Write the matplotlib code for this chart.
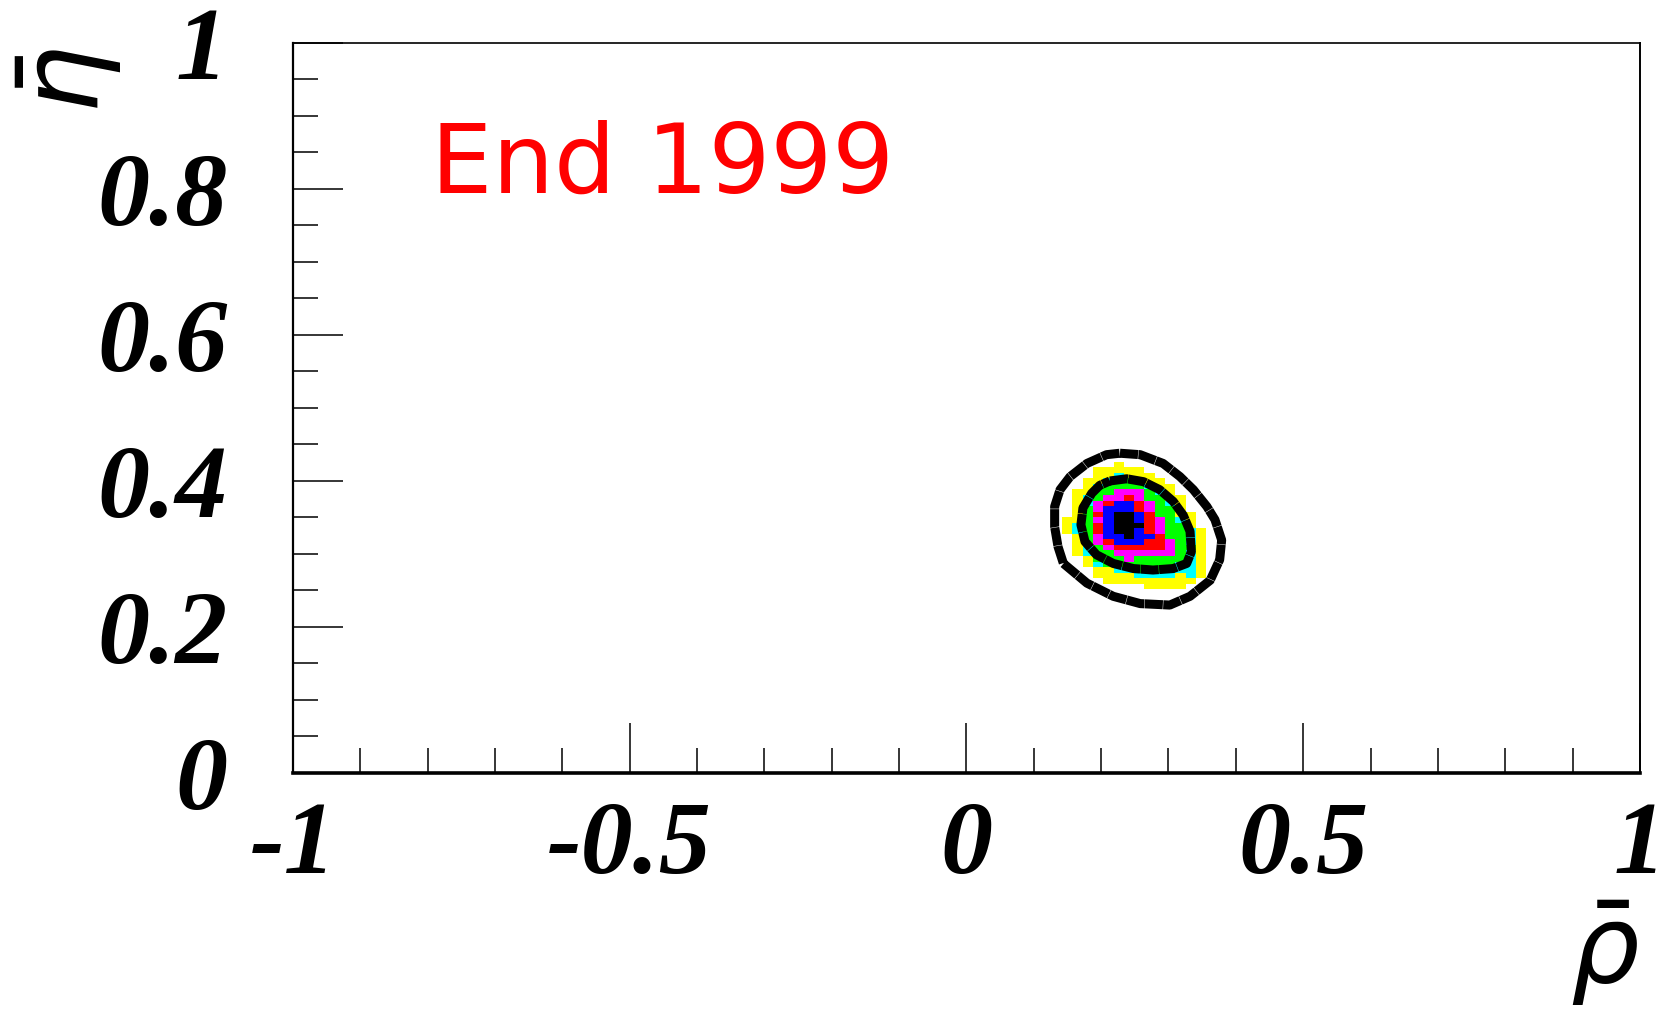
import numpy as np
import matplotlib
matplotlib.use('Agg')
import matplotlib.pyplot as plt
from matplotlib.colors import ListedColormap, BoundaryNorm
from matplotlib.ticker import MultipleLocator, FuncFormatter

# Fit result: coloured likelihood levels on a (rho-bar, eta-bar) grid
# codes from the outside in: Y yellow, C cyan, G green, M magenta, R red, B blue, K black
level_codes = 'YCGMRBK'
level_colors = ['#ffff00', '#00ffff', '#00ff00', '#ff00ff', '#ff0000', '#0000ff', '#000000']

blob_rows = [
    '.....Y........',
    '...YYYYY......',
    '...YYCYYY.....',
    '..YYCGGCYY....',
    '..YCGGGGCYY...',
    '.YYGGMMMGCY...',
    '.YCGMMRMGGYY..',
    '.YCMRBBRMGCY..',
    '.YGMBBBRMGGY..',
    '.YGRBKKBRGGYY.',
    'YYGMBKKBRMGCY.',
    'YCGRBKKKRMGGY.',
    'YCGRBKKBRMGGCY',
    '.YGMBBKBBRGGCY',
    '.YGMRBBBRRMGCY',
    '.YCGMRRRRRMGGY',
    '.YCGGMMMMMMGCY',
    '..YGGGMGGGGGCY',
    '..YCGGGGGGGCCY',
    '...YYCCGGGGCCY',
    '...YYYYCCCCYCY',
    '....YYYYYYYYY.',
    '........YYYY..',
]

# grid binning (left edge / top edge and bin sizes)
rho_lo, rho_bin = 0.142, 0.0153
eta_hi, eta_bin = 0.4264, 0.0076

# confidence contours
outer_rho = [0.228, 0.258, 0.292, 0.317, 0.337, 0.357, 0.369, 0.379, 0.376, 0.362, 0.332,
             0.302, 0.258, 0.218, 0.179, 0.144, 0.136, 0.131, 0.131, 0.139, 0.154, 0.179, 0.208]
outer_eta = [0.438, 0.436, 0.424, 0.406, 0.388, 0.365, 0.347, 0.319, 0.292, 0.264, 0.242,
             0.230, 0.232, 0.242, 0.260, 0.287, 0.310, 0.337, 0.365, 0.388, 0.406, 0.424, 0.436]
inner_rho = [0.213, 0.238, 0.263, 0.287, 0.307, 0.322, 0.332, 0.334, 0.327, 0.307, 0.277,
             0.248, 0.218, 0.193, 0.176, 0.170, 0.173, 0.186, 0.198]
inner_eta = [0.400, 0.403, 0.399, 0.388, 0.372, 0.353, 0.331, 0.303, 0.287, 0.280, 0.278,
             0.280, 0.287, 0.299, 0.317, 0.340, 0.363, 0.383, 0.394]

x_ticks_major = [-1, -0.5, 0, 0.5, 1]
y_ticks_major = [0, 0.2, 0.4, 0.6, 0.8, 1]
label_text = 'End 1999'


def build_grid(rows):
    codes = np.array([list(r) for r in rows])
    levels = np.full(codes.shape, np.nan)
    for i, c in enumerate(level_codes):
        levels[codes == c] = i
    return np.ma.masked_invalid(levels)


def fmt(v, pos):
    return '%g' % v


def main():
    fig = plt.figure(figsize=(16.71, 10.18), dpi=100)
    ax = fig.add_axes([0.1753, 0.2407, 0.8061, 0.7171])

    grid = build_grid(blob_rows)
    nrow, ncol = grid.shape
    x_edges = rho_lo + rho_bin * np.arange(ncol + 1)
    y_edges = eta_hi - eta_bin * np.arange(nrow + 1)
    cmap = ListedColormap(level_colors)
    norm = BoundaryNorm(np.arange(-0.5, len(level_colors) + 0.5), cmap.N)
    ax.pcolormesh(x_edges, y_edges, grid, cmap=cmap, norm=norm, zorder=1)

    # thick black contours, only faint breaks between segments (ROOT style)
    for rr, ee in ((outer_rho, outer_eta), (inner_rho, inner_eta)):
        ax.plot(rr + rr[:1], ee + ee[:1], color='black', lw=6.5,
                dashes=(2.0, 0.05), solid_joinstyle='round', zorder=3)

    ax.text(-0.795, 0.7945, label_text, color='red', fontsize=70,
            fontfamily='DejaVu Sans', ha='left', va='baseline')

    ax.set_xlim(-1, 1)
    ax.set_ylim(0, 1)
    ax.set_xticks(x_ticks_major)
    ax.set_yticks(y_ticks_major)
    ax.xaxis.set_minor_locator(MultipleLocator(0.1))
    ax.yaxis.set_minor_locator(MultipleLocator(0.05))
    ax.xaxis.set_major_formatter(FuncFormatter(fmt))
    ax.yaxis.set_major_formatter(FuncFormatter(fmt))

    ax.tick_params(which='both', direction='in', top=False, right=False, width=1.1, color='black')
    ax.tick_params(which='major', length=36)
    ax.tick_params(which='minor', length=18)
    ax.tick_params(axis='x', which='major', pad=20)
    ax.tick_params(axis='y', which='major', pad=47)
    for lab in ax.get_xticklabels() + ax.get_yticklabels():
        lab.set_fontfamily('Liberation Serif')
        lab.set_fontweight('bold')
        lab.set_fontstyle('italic')
        lab.set_fontsize(75)

    for side, lw in (('left', 1.6), ('bottom', 2.6), ('top', 1.2), ('right', 1.4)):
        ax.spines[side].set_linewidth(lw)

    ax.set_xlabel(r'$\bar{\rho}$', fontsize=78, ha='right', va='top')
    ax.xaxis.set_label_coords(1.0, -0.172)
    ax.set_ylabel(r'$\bar{\eta}$', fontsize=78, rotation=90, ha='right', va='center')
    ax.yaxis.set_label_coords(-0.166, 0.995)

    fig.savefig('out.png', dpi=100, facecolor='white')


if __name__ == '__main__':
    main()
